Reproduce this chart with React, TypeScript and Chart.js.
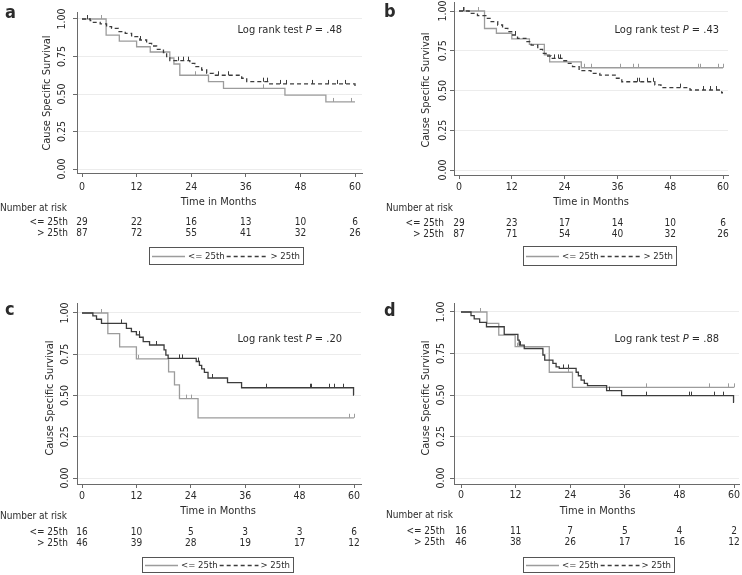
import React, { useEffect, useRef } from "react";
import { Chart, registerables } from "chart.js";
Chart.register(...registerables);

const FONT = '"DejaVu Sans Condensed", "DejaVu Sans", sans-serif';
const TEXT = "#2b2b2b";
const AXIS = "#6a6a6a";
const GRID = "#ececec";
const LIGHT = "#9c9c9c";
const DARK = "#3c3c3c";

// ---- shared ticks / labels ----
const MONTH_TICKS = [0, 12, 24, 36, 48, 60];
const SURV_TICKS = [0, 0.25, 0.5, 0.75, 1];
const SURV_TICK_LABELS = ["0.00", "0.25", "0.50", "0.75", "1.00"];
const GROUPS = ["<= 25th", "> 25th"];
const PANEL_LETTERS = ["a", "b", "c", "d"];
const P_VALUES = [".48", ".43", ".20", ".88"];

// ---- panel a ----
const A_LOW_T = [0, 5.3, 8.2, 12.0, 15.0, 19.3, 20.2, 21.5, 27.8, 31.1, 44.6, 53.6, 60];
const A_LOW_S = [1, 0.893, 0.852, 0.815, 0.78, 0.74, 0.7, 0.625, 0.582, 0.538, 0.493, 0.447, 0.447];
const A_LOW_CENS = [4.2, 24.8, 39.8, 55.2, 59.1];
const A_HIGH_T = [0, 1.8, 2.5, 4.0, 5.4, 6.5, 8.0, 9.5, 10.9, 12.7, 14.2, 15.3, 16.4, 17.9, 18.6, 19.3, 23.7, 24.8, 26.3, 27.4, 28.9, 35.1, 36.2, 41.0, 60];
const A_HIGH_S = [1, 0.989, 0.978, 0.967, 0.949, 0.938, 0.916, 0.904, 0.882, 0.86, 0.838, 0.82, 0.798, 0.776, 0.749, 0.722, 0.704, 0.682, 0.66, 0.638, 0.625, 0.605, 0.582, 0.567, 0.545];
const A_HIGH_CENS = [1.0, 12.8, 21.0, 22.3, 23.2, 29.8, 32.0, 39.8, 40.6, 43.5, 44.8, 50.5, 54.1, 56.0, 57.8];
const A_RISK_LOW = [29, 22, 16, 13, 10, 6];
const A_RISK_HIGH = [87, 72, 55, 41, 32, 26];

// ---- panel b ----
const B_LOW_T = [0, 5.8, 8.5, 12.0, 16.0, 19.4, 20.6, 27.8, 60];
const B_LOW_S = [1, 0.89, 0.86, 0.825, 0.79, 0.725, 0.68, 0.643, 0.643];
const B_LOW_CENS = [1.2, 4.4, 28.5, 30.0, 36.6, 39.5, 40.6, 54.4, 54.8, 58.8, 59.9];
const B_HIGH_T = [0, 2.3, 4.2, 6.1, 7.3, 8.8, 9.9, 11.1, 12.2, 13.3, 15.2, 16.4, 17.9, 19.0, 19.8, 20.9, 23.6, 24.7, 25.8, 27.3, 30.0, 32.0, 35.5, 37.0, 44.5, 45.9, 52.5, 59.7, 60];
const B_HIGH_S = [1, 0.985, 0.971, 0.954, 0.933, 0.912, 0.891, 0.87, 0.849, 0.828, 0.807, 0.786, 0.759, 0.734, 0.717, 0.702, 0.687, 0.671, 0.65, 0.625, 0.608, 0.597, 0.577, 0.555, 0.535, 0.518, 0.503, 0.486, 0.486];
const B_HIGH_CENS = [0.8, 12.8, 21.5, 22.5, 23.0, 40.5, 41.0, 42.7, 44.2, 50.2, 55.5, 57.0, 58.4];
const B_RISK_LOW = [29, 23, 17, 14, 10, 6];
const B_RISK_HIGH = [87, 71, 54, 40, 32, 26];

// ---- panel c ----
const C_LOW_T = [0, 5.7, 8.3, 12.0, 19.1, 20.4, 21.5, 25.6, 60];
const C_LOW_S = [1, 0.875, 0.795, 0.722, 0.643, 0.564, 0.481, 0.365, 0.365];
const C_LOW_CENS = [4.3, 12.4, 22.9, 24.0, 58.9, 59.9];
const C_HIGH_T = [0, 2.4, 3.2, 4.3, 9.8, 10.9, 12.0, 12.7, 13.5, 14.9, 18.1, 18.5, 19.0, 25.2, 25.9, 26.4, 27.0, 27.8, 32.1, 35.2, 59.9, 60];
const C_HIGH_S = [1, 0.982, 0.962, 0.937, 0.907, 0.887, 0.867, 0.853, 0.827, 0.806, 0.776, 0.745, 0.725, 0.706, 0.682, 0.661, 0.64, 0.606, 0.578, 0.547, 0.503, 0.503];
const C_HIGH_CENS = [8.7, 12.6, 16.4, 21.4, 22.1, 25.5, 28.6, 40.6, 50.2, 50.5, 54.5, 55.5, 57.5];
const C_RISK_LOW = [16, 10, 5, 3, 3, 6];
const C_RISK_HIGH = [46, 39, 28, 19, 17, 12];

// ---- panel d ----
const D_LOW_T = [0, 5.7, 8.3, 11.9, 19.4, 24.5, 60];
const D_LOW_S = [1, 0.932, 0.861, 0.791, 0.637, 0.546, 0.546];
const D_LOW_CENS = [4.1, 12.4, 23.6, 40.7, 54.6, 58.7, 60];
const D_HIGH_T = [0, 2.2, 2.9, 4.1, 5.6, 9.5, 12.5, 12.8, 13.9, 18.0, 18.4, 20.2, 20.9, 21.6, 25.3, 25.8, 26.4, 27.1, 27.8, 32.0, 35.3, 59.9, 60];
const D_HIGH_S = [1, 0.978, 0.958, 0.938, 0.911, 0.865, 0.831, 0.8, 0.78, 0.741, 0.71, 0.69, 0.67, 0.66, 0.637, 0.616, 0.59, 0.57, 0.556, 0.526, 0.496, 0.455, 0.455];
const D_HIGH_CENS = [12.9, 22.5, 23.6, 32.5, 40.7, 50.1, 50.5, 55.5, 57.5];
const D_RISK_LOW = [16, 11, 7, 5, 4, 2];
const D_RISK_HIGH = [46, 38, 26, 17, 16, 12];

// ---- layout (pixel placement of each panel, canvas-local) ----
const LAYOUTS = [
  { left: 0, top: 0, w: 371, h: 287, L: 77, R: 362, T: 12, B: 173, x0: 82, x60: 355, y1: 19, y0: 169,
    letterX: 5, letterY: 13, pRight: 342, pY: 30, yTitleX: 47, yTitleY: 93, yTickX: 62, xTickY: 187, xTitleY: 202,
    narX: 0, narY: 208, row1Y: 222, row2Y: 233, rowLabelRight: 68, leg: [149, 247, 303, 264] },
  { left: 371, top: 0, w: 371, h: 287, L: 83, R: 357, T: 2, B: 175, x0: 88, x60: 352, y1: 11, y0: 170,
    letterX: 13, letterY: 12, pRight: 348, pY: 30, yTitleX: 55, yTitleY: 90, yTickX: 72, xTickY: 187, xTitleY: 202,
    narX: 15, narY: 208, row1Y: 223, row2Y: 234, rowLabelRight: 73, leg: [152, 246, 305, 265] },
  { left: 0, top: 287, w: 371, h: 288, L: 77, R: 361, T: 16, B: 197, x0: 82, x60: 354, y1: 26, y0: 191,
    letterX: 5, letterY: 23, pRight: 342, pY: 52, yTitleX: 50, yTitleY: 111, yTickX: 65, xTickY: 209, xTitleY: 224,
    narX: 0, narY: 229, row1Y: 245, row2Y: 256, rowLabelRight: 68, leg: [142, 270, 293, 285] },
  { left: 371, top: 287, w: 371, h: 288, L: 83, R: 368, T: 16, B: 197, x0: 90, x60: 363, y1: 25, y0: 191,
    letterX: 13, letterY: 24, pRight: 348, pY: 52, yTitleX: 55, yTitleY: 111, yTickX: 70, xTickY: 208, xTitleY: 224,
    narX: 15, narY: 228, row1Y: 244, row2Y: 255, rowLabelRight: 74, leg: [152, 270, 303, 285] },
];

const PANELS = [
  { low: { t: A_LOW_T, s: A_LOW_S, c: A_LOW_CENS }, high: { t: A_HIGH_T, s: A_HIGH_S, c: A_HIGH_CENS }, riskLow: A_RISK_LOW, riskHigh: A_RISK_HIGH, highDashed: true },
  { low: { t: B_LOW_T, s: B_LOW_S, c: B_LOW_CENS }, high: { t: B_HIGH_T, s: B_HIGH_S, c: B_HIGH_CENS }, riskLow: B_RISK_LOW, riskHigh: B_RISK_HIGH, highDashed: true },
  { low: { t: C_LOW_T, s: C_LOW_S, c: C_LOW_CENS }, high: { t: C_HIGH_T, s: C_HIGH_S, c: C_HIGH_CENS }, riskLow: C_RISK_LOW, riskHigh: C_RISK_HIGH, highDashed: false },
  { low: { t: D_LOW_T, s: D_LOW_S, c: D_LOW_CENS }, high: { t: D_HIGH_T, s: D_HIGH_S, c: D_HIGH_CENS }, riskLow: D_RISK_LOW, riskHigh: D_RISK_HIGH, highDashed: false },
].map((p, i) => ({ ...p, letter: PANEL_LETTERS[i], p: P_VALUES[i], lay: LAYOUTS[i] }));

function stepAt(times: number[], surv: number[], t: number) {
  let v = surv[0];
  for (let i = 0; i < times.length; i++) if (times[i] <= t) v = surv[i];
  return v;
}

function drawCensors(chart: any, cfg: any) {
  const ctx = chart.ctx;
  const xs = chart.scales.x, ys = chart.scales.y;
  const groups = [
    { g: cfg.low, color: LIGHT },
    { g: cfg.high, color: DARK },
  ];
  ctx.save();
  ctx.lineWidth = 1;
  groups.forEach(({ g, color }) => {
    ctx.strokeStyle = color;
    g.c.forEach((t: number) => {
      const px = Math.round(xs.getPixelForValue(t)) + 0.5;
      const py = ys.getPixelForValue(stepAt(g.t, g.s, t));
      ctx.beginPath();
      ctx.moveTo(px, py);
      ctx.lineTo(px, py - 4);
      ctx.stroke();
    });
  });
  ctx.restore();
}

function drawExtras(chart: any, cfg: any) {
  const ctx = chart.ctx;
  const xs = chart.scales.x, ys = chart.scales.y;
  const lay = cfg.lay;
  ctx.save();
  ctx.fillStyle = TEXT;
  ctx.textBaseline = "middle";

  // panel letter
  ctx.font = `bold 18px ${FONT}`;
  ctx.textAlign = "left";
  ctx.fillText(cfg.letter, lay.letterX, lay.letterY);

  // log rank text
  const s1 = "Log rank test ";
  const s3 = " = " + cfg.p;
  ctx.font = `italic 11px ${FONT}`;
  const wP = ctx.measureText("P").width;
  ctx.font = `11px ${FONT}`;
  const w1 = ctx.measureText(s1).width;
  const w3 = ctx.measureText(s3).width;
  let x = lay.pRight - (w1 + wP + w3);
  ctx.fillText(s1, x, lay.pY);
  x += w1;
  ctx.font = `italic 11px ${FONT}`;
  ctx.fillText("P", x, lay.pY);
  x += wP;
  ctx.font = `11px ${FONT}`;
  ctx.fillText(s3, x, lay.pY);

  // y title
  ctx.save();
  ctx.translate(lay.yTitleX, lay.yTitleY);
  ctx.rotate(-Math.PI / 2);
  ctx.textAlign = "center";
  ctx.fillText("Cause Specific Survival", 0, 0);
  ctx.restore();

  // y tick labels (rotated)
  ctx.font = `10.5px ${FONT}`;
  SURV_TICKS.forEach((v, i) => {
    const py = ys.getPixelForValue(v);
    ctx.save();
    ctx.translate(lay.yTickX, py);
    ctx.rotate(-Math.PI / 2);
    ctx.textAlign = "center";
    ctx.fillText(SURV_TICK_LABELS[i], 0, 0);
    ctx.restore();
  });

  // x tick labels
  ctx.textAlign = "center";
  MONTH_TICKS.forEach((v) => {
    ctx.fillText(String(v), xs.getPixelForValue(v), lay.xTickY);
  });

  // x title
  ctx.font = `11px ${FONT}`;
  ctx.fillText("Time in Months", (xs.getPixelForValue(0) + xs.getPixelForValue(60)) / 2, lay.xTitleY);

  // number at risk
  ctx.font = `10px ${FONT}`;
  ctx.textAlign = "left";
  ctx.fillText("Number at risk", lay.narX, lay.narY);
  ctx.textAlign = "right";
  ctx.fillText(GROUPS[0], lay.rowLabelRight, lay.row1Y);
  ctx.fillText(GROUPS[1], lay.rowLabelRight, lay.row2Y);
  ctx.textAlign = "center";
  MONTH_TICKS.forEach((v, i) => {
    const px = xs.getPixelForValue(v);
    ctx.fillText(String(cfg.riskLow[i]), px, lay.row1Y);
    ctx.fillText(String(cfg.riskHigh[i]), px, lay.row2Y);
  });

  // legend
  const [lx1, ly1, lx2, ly2] = lay.leg;
  ctx.fillStyle = "#ffffff";
  ctx.fillRect(lx1, ly1, lx2 - lx1, ly2 - ly1);
  ctx.strokeStyle = "#555555";
  ctx.lineWidth = 1;
  ctx.strokeRect(lx1 + 0.5, ly1 + 0.5, lx2 - lx1, ly2 - ly1);
  const my = Math.round((ly1 + ly2) / 2) + 0.5;
  ctx.font = `9.5px ${FONT}`;
  const tw1 = ctx.measureText(GROUPS[0]).width;
  const tw2 = ctx.measureText(GROUPS[1]).width;
  const l1a = lx1 + 3, l1b = lx1 + 36;
  const t1x = l1b + 3;
  const t2x = lx2 - 3 - tw2;
  const l2a = t1x + tw1 + 2, l2b = t2x - 2;
  ctx.lineWidth = 1.3;
  ctx.strokeStyle = LIGHT;
  ctx.beginPath();
  ctx.moveTo(l1a, my);
  ctx.lineTo(l1b, my);
  ctx.stroke();
  ctx.strokeStyle = DARK;
  ctx.setLineDash([4, 3]);
  ctx.beginPath();
  ctx.moveTo(l2a, my);
  ctx.lineTo(l2b, my);
  ctx.stroke();
  ctx.setLineDash([]);
  ctx.fillStyle = TEXT;
  ctx.textAlign = "left";
  ctx.fillText(GROUPS[0], t1x, my);
  ctx.fillText(GROUPS[1], t2x, my);

  ctx.restore();
}

function Panel({ cfg }: { cfg: any }) {
  const ref = useRef<HTMLCanvasElement | null>(null);
  useEffect(() => {
    const lay = cfg.lay;
    const m = (lay.x60 - lay.x0) / 60;
    const k = lay.y0 - lay.y1;
    const xMin = (lay.L - lay.x0) / m;
    const xMax = (lay.R - lay.x0) / m;
    const yMin = (lay.y0 - lay.B) / k;
    const yMax = (lay.y0 - lay.T) / k;
    const chart = new Chart(ref.current as HTMLCanvasElement, {
      type: "line",
      data: {
        datasets: [
          {
            data: cfg.high.t.map((t: number, i: number) => ({ x: t, y: cfg.high.s[i] })),
            stepped: "before",
            borderColor: DARK,
            borderWidth: 1.3,
            borderDash: cfg.highDashed ? [4, 3] : [],
            pointRadius: 0,
            fill: false,
          },
          {
            data: cfg.low.t.map((t: number, i: number) => ({ x: t, y: cfg.low.s[i] })),
            stepped: "before",
            borderColor: LIGHT,
            borderWidth: 1.3,
            pointRadius: 0,
            fill: false,
          },
        ],
      },
      options: {
        responsive: false,
        animation: false,
        events: [],
        layout: { padding: { left: lay.L, top: lay.T, right: lay.w - lay.R, bottom: lay.h - lay.B } },
        plugins: { legend: { display: false }, tooltip: { enabled: false }, title: { display: false } },
        scales: {
          x: {
            type: "linear",
            bounds: "data",
            min: xMin,
            max: xMax,
            afterBuildTicks: (s: any) => { s.ticks = MONTH_TICKS.map((v) => ({ value: v })); },
            afterFit: (s: any) => { s.height = 0; },
            ticks: { display: false },
            grid: { drawOnChartArea: false, drawTicks: true, tickLength: 4, tickColor: AXIS, color: AXIS },
            border: { display: true, color: AXIS, width: 1 },
          },
          y: {
            type: "linear",
            bounds: "data",
            min: yMin,
            max: yMax,
            afterBuildTicks: (s: any) => { s.ticks = SURV_TICKS.map((v) => ({ value: v })); },
            afterFit: (s: any) => { s.width = 0; },
            ticks: { display: false },
            grid: { drawOnChartArea: true, color: GRID, drawTicks: true, tickLength: 4, tickColor: AXIS },
            border: { display: true, color: AXIS, width: 1 },
          },
        },
      },
      plugins: [
        {
          id: "kmExtras",
          afterDatasetsDraw: (c: any) => drawCensors(c, cfg),
          afterDraw: (c: any) => drawExtras(c, cfg),
        },
      ],
    } as any);
    return () => chart.destroy();
  }, []);
  const lay = cfg.lay;
  return (
    <canvas
      ref={ref}
      width={lay.w}
      height={lay.h}
      style={{ position: "absolute", left: lay.left, top: lay.top, width: lay.w, height: lay.h }}
    />
  );
}

export default function App() {
  return (
    <div style={{ position: "absolute", left: 0, top: 0, width: 742, height: 575, background: "#ffffff", overflow: "hidden" }}>
      {PANELS.map((p) => (
        <Panel key={p.letter} cfg={p} />
      ))}
    </div>
  );
}
